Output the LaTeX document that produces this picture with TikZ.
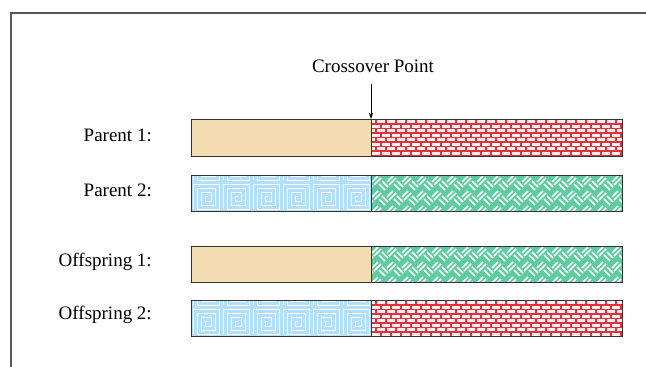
\documentclass[tikz,border=0pt]{standalone}
\usepackage{fontspec}
\setmainfont{Liberation Serif}
\usetikzlibrary{arrows.meta}
\definecolor{tan}{HTML}{F4DDB2}
\definecolor{bluebg}{HTML}{B3E0F8}
\definecolor{brickred}{HTML}{E3303B}
\definecolor{weavegreen}{HTML}{5ECBA1}
\definecolor{framegray}{HTML}{555555}
\tikzset{
  bar/.style={draw=black!80, line width=0.9pt},
  lbl/.style={anchor=east, font=\fontsize{19}{22}\selectfont, inner sep=0pt},
}
\newcommand{\tanpart}[2]{\fill[tan] (191,#1) rectangle (371,#2);}
\newcommand{\bluepart}[4]{%
  \begin{scope}
    \clip (#1,#3) rectangle (#2,#4);
    \fill[bluebg] (#1,#3) rectangle (#2,#4);
    \foreach \i in {0,...,6}{
      \foreach \j in {0,1}{
        \pgfmathsetmacro{\cx}{#1+\i*30}
        \pgfmathsetmacro{\cy}{#4-\j*29-29}
        \draw[white, line width=0.9pt]
          (\cx+2,\cy+27) -- (\cx+2,\cy+2) -- (\cx+28,\cy+2) -- (\cx+28,\cy+27) -- (\cx+6,\cy+27)
          -- (\cx+6,\cy+6) -- (\cx+24,\cy+6) -- (\cx+24,\cy+23) -- (\cx+10,\cy+23)
          -- (\cx+10,\cy+10) -- (\cx+20,\cy+10) -- (\cx+20,\cy+19) -- (\cx+14,\cy+19) -- (\cx+14,\cy+14) -- (\cx+17,\cy+14);
      }
    }
  \end{scope}}
\newcommand{\redpart}[4]{%
  \begin{scope}
    \clip (#1,#3) rectangle (#2,#4);
    \fill[brickred] (#1,#3) rectangle (#2,#4);
    \foreach \r in {0,...,8}{
      \pgfmathsetmacro{\yy}{#3+1.3+\r*4.5}
      \pgfmathsetmacro{\off}{mod(\r,2)*5}
      \foreach \c in {0,...,26}{
        \fill[white!95!red] (#1+\off+\c*10-4,\yy) rectangle ++(8.2,2.8);
      }
    }
  \end{scope}}
\newcommand{\greenpart}[4]{%
  \begin{scope}
    \clip (#1,#3) rectangle (#2,#4);
    \fill[weavegreen] (#1,#3) rectangle (#2,#4);
    \foreach \i in {-1,...,18}{
      \foreach \j in {-1,...,3}{
        \pgfmathsetmacro{\cx}{#1+\i*15}
        \pgfmathsetmacro{\cy}{#3+\j*15}
        \draw[white, line width=1.5pt] (\cx+1,\cy+7) -- (\cx+7,\cy+1);
        \draw[white, line width=1.5pt] (\cx+3,\cy+10) -- (\cx+10,\cy+3);
        \draw[white, line width=1.5pt] (\cx+8,\cy+9) -- (\cx+14,\cy+15);
        \draw[white, line width=1.5pt] (\cx+11,\cy+6) -- (\cx+17,\cy+12);
      }
    }
  \end{scope}}
\begin{document}
\begin{tikzpicture}[x=1pt,y=-1pt]
\useasboundingbox (0,0) rectangle (646,367);
\fill[white] (0,0) rectangle (646,367);
% frame
\draw[framegray, line width=1.2pt] (11,367) -- (11,13) -- (646,13);

% Parent 1
\tanpart{119}{156}
\redpart{371}{622}{119}{156}
\node[bar, minimum width=431pt, minimum height=37pt, inner sep=0pt] (p1) at (406.5,137.5) {};
\draw[bar] (371,119) -- (371,156);
% Parent 2
\bluepart{191}{371}{175}{211}
\greenpart{371}{622}{175}{211}
\node[bar, minimum width=431pt, minimum height=36pt, inner sep=0pt] (p2) at (406.5,193) {};
\draw[bar] (371,175) -- (371,211);
% Offspring 1
\tanpart{246}{282}
\greenpart{371}{622}{246}{282}
\node[bar, minimum width=431pt, minimum height=36pt, inner sep=0pt] (o1) at (406.5,264) {};
\draw[bar] (371,246) -- (371,282);
% Offspring 2
\bluepart{191}{371}{300}{336}
\redpart{371}{622}{300}{336}
\node[bar, minimum width=431pt, minimum height=36pt, inner sep=0pt] (o2) at (406.5,318) {};
\draw[bar] (371,300) -- (371,336);

% labels
\node[lbl] (l1) at (152,135) {Parent 1:};
\node[lbl] (l2) at (152,190) {Parent 2:};
\node[lbl] (l3) at (152,262) {Offspring 1:};
\node[lbl] (l4) at (152,315) {Offspring 2:};

% crossover
\node[font=\fontsize{19}{22}\selectfont, inner sep=0pt] (cp) at (373,66) {Crossover Point};
\coordinate (ctop) at (371,84);
\coordinate (cbot) at (371,119);
\draw[-{Stealth[length=6pt,width=4pt]}, line width=0.8pt] (ctop) -- (cbot);
\end{tikzpicture}
\end{document}
